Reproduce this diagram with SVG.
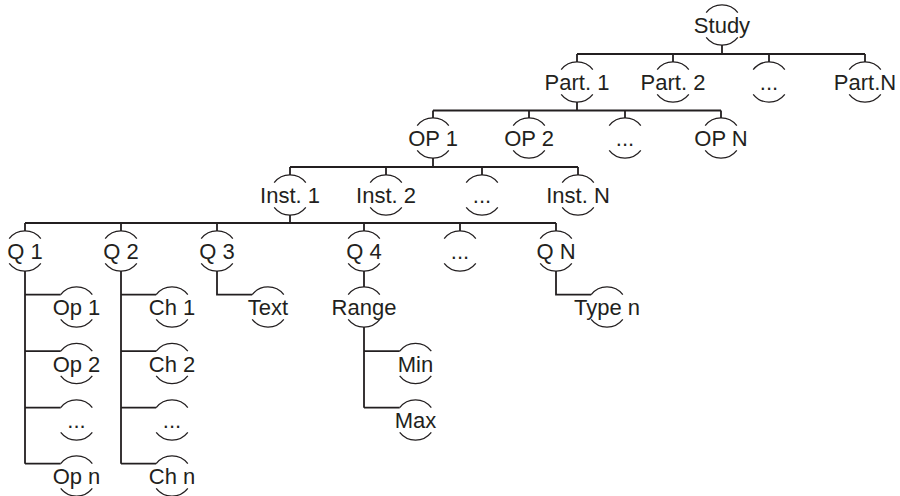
<svg xmlns="http://www.w3.org/2000/svg" xmlns:xlink="http://www.w3.org/1999/xlink" width="900" height="496" viewBox="0 0 900 496">
<style>
.ring{fill:none;stroke:#231f20;stroke-width:1.3}
.lbl{font-family:"Liberation Sans",Arial,sans-serif;font-size:22px;fill:#231f20;text-anchor:middle}
.con{fill:none;stroke:#231f20;stroke-width:1.8}
</style>
<defs>
<path id="ring" class="ring" d="M-15.8,-12.3 A20,20 0 0 1 15.8,-12.3 M-15.8,12.3 A20,20 0 0 0 15.8,12.3"/>
</defs>
<rect width="900" height="496" fill="#fff"/>
<g id="connectors" class="con">
<path d="M722,45V54M577,54H865M577,54V62M673,54V62M769,54V62M865,54V62"/>
<path d="M577,102V110.5M433,110.5H721M433,110.5V118M529,110.5V118M625,110.5V118M721,110.5V118"/>
<path d="M433,158V167M290,167H578M290,167V175M386,167V175M482,167V175M578,167V175"/>
<path d="M290,215V223M25,223H556M25,223V231M121,223V231M217,223V231M364,223V231M460,223V231M556,223V231"/>
<path d="M25,271V463.7M25,294.7H60.7M25,351.2H60.7M25,407.7H60.7M25,463.7H60.7"/>
<path d="M121,271V463.7M121,294.7H156.2M121,351.2H156.2M121,407.7H156.2M121,463.7H156.2"/>
<path d="M217,271V294.7H252.2"/>
<path d="M364,271V287"/>
<path d="M364,327V407.7M364,351.2H399.7M364,407.7H399.7"/>
<path d="M556,271V294.7H591.2"/>
</g>
<g id="n-study"><use href="#ring" x="722" y="25"/><text class="lbl" x="722" y="33">Study</text></g>
<g id="n-part1"><use href="#ring" x="577" y="82"/><text class="lbl" x="577" y="90">Part. 1</text></g>
<g id="n-part2"><use href="#ring" x="673" y="82"/><text class="lbl" x="673" y="90">Part. 2</text></g>
<g id="n-partdots"><use href="#ring" x="769" y="82"/><text class="lbl" x="769" y="90">...</text></g>
<g id="n-partN"><use href="#ring" x="865" y="82"/><text class="lbl" x="865" y="90">Part.N</text></g>
<g id="n-op1"><use href="#ring" x="433" y="138"/><text class="lbl" x="433" y="146">OP 1</text></g>
<g id="n-op2"><use href="#ring" x="529" y="138"/><text class="lbl" x="529" y="146">OP 2</text></g>
<g id="n-opdots"><use href="#ring" x="625" y="138"/><text class="lbl" x="625" y="146">...</text></g>
<g id="n-opN"><use href="#ring" x="721" y="138"/><text class="lbl" x="721" y="146">OP N</text></g>
<g id="n-inst1"><use href="#ring" x="290" y="195"/><text class="lbl" x="290" y="203">Inst. 1</text></g>
<g id="n-inst2"><use href="#ring" x="386" y="195"/><text class="lbl" x="386" y="203">Inst. 2</text></g>
<g id="n-instdots"><use href="#ring" x="482" y="195"/><text class="lbl" x="482" y="203">...</text></g>
<g id="n-instN"><use href="#ring" x="578" y="195"/><text class="lbl" x="578" y="203">Inst. N</text></g>
<g id="n-q1"><use href="#ring" x="25" y="251"/><text class="lbl" x="25" y="259">Q 1</text></g>
<g id="n-q2"><use href="#ring" x="121" y="251"/><text class="lbl" x="121" y="259">Q 2</text></g>
<g id="n-q3"><use href="#ring" x="217" y="251"/><text class="lbl" x="217" y="259">Q 3</text></g>
<g id="n-q4"><use href="#ring" x="364" y="251"/><text class="lbl" x="364" y="259">Q 4</text></g>
<g id="n-qdots"><use href="#ring" x="460" y="251"/><text class="lbl" x="460" y="259">...</text></g>
<g id="n-qN"><use href="#ring" x="556" y="251"/><text class="lbl" x="556" y="259">Q N</text></g>
<g id="n-op1a"><use href="#ring" x="76.5" y="307"/><text class="lbl" x="76.5" y="315">Op 1</text></g>
<g id="n-op2a"><use href="#ring" x="76.5" y="363.5"/><text class="lbl" x="76.5" y="371.5">Op 2</text></g>
<g id="n-opdotsa"><use href="#ring" x="76.5" y="420"/><text class="lbl" x="76.5" y="428">...</text></g>
<g id="n-opna"><use href="#ring" x="76.5" y="476"/><text class="lbl" x="76.5" y="484">Op n</text></g>
<g id="n-ch1"><use href="#ring" x="172" y="307"/><text class="lbl" x="172" y="315">Ch 1</text></g>
<g id="n-ch2"><use href="#ring" x="172" y="363.5"/><text class="lbl" x="172" y="371.5">Ch 2</text></g>
<g id="n-chdots"><use href="#ring" x="172" y="420"/><text class="lbl" x="172" y="428">...</text></g>
<g id="n-chn"><use href="#ring" x="172" y="476"/><text class="lbl" x="172" y="484">Ch n</text></g>
<g id="n-text"><use href="#ring" x="268" y="307"/><text class="lbl" x="268" y="315">Text</text></g>
<g id="n-range"><use href="#ring" x="364" y="307"/><text class="lbl" x="364" y="315">Range</text></g>
<g id="n-min"><use href="#ring" x="415.5" y="363.5"/><text class="lbl" x="415.5" y="371.5">Min</text></g>
<g id="n-max"><use href="#ring" x="415.5" y="420"/><text class="lbl" x="415.5" y="428">Max</text></g>
<g id="n-typen"><use href="#ring" x="607" y="307"/><text class="lbl" x="607" y="315">Type n</text></g>
</svg>
